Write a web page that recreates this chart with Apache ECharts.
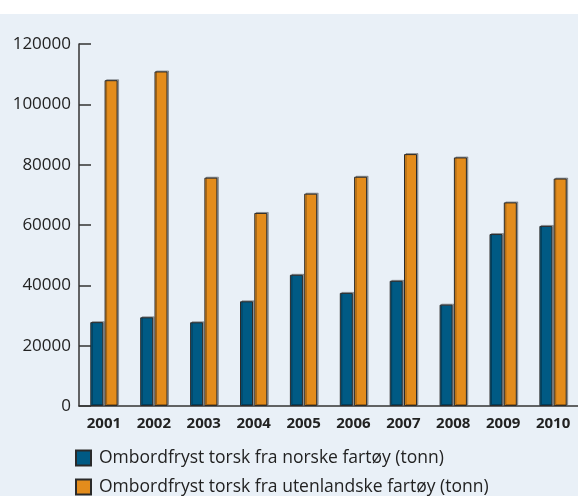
<!DOCTYPE html>
<html>
<head>
<meta charset="utf-8">
<script src="https://cdn.jsdelivr.net/npm/echarts@6/dist/echarts.min.js"></script>
<style>
  html, body { margin: 0; padding: 0; background: #fff; }
  #chart { width: 578px; height: 496px; background: linear-gradient(#fff 0, #fff 14px, #e9f0f7 14px); }
</style>
</head>
<body>
<div id="chart"></div>
<script>
// år og tonn
var years = ['2001', '2002', '2003', '2004', '2005', '2006', '2007', '2008', '2009', '2010'];
var norske = [27800, 29400, 27750, 34700, 43500, 37500, 41500, 33600, 57000, 59700];
var utenlandske = [108000, 110900, 75700, 64000, 70400, 76000, 83500, 82400, 67500, 75400];
var yTicks = [0, 20000, 40000, 60000, 80000, 100000, 120000];
var seriesNames = ['Ombordfryst torsk fra norske fartøy (tonn)', 'Ombordfryst torsk fra utenlandske fartøy (tonn)'];

var fontFam = '"Open Sans", "Noto Sans", sans-serif';

var myChart = echarts.init(document.getElementById('chart'), null, { renderer: 'canvas' });

var barStyle = function (color) {
    return {
        color: color,
        borderColor: '#2a2a2a',
        borderWidth: 1,
        shadowColor: 'rgba(0,0,0,0.3)',
        shadowOffsetX: 1.5,
        shadowOffsetY: -1,
        shadowBlur: 0
    };
};

// en legende per linje
var legendFor = function (name, top) {
    return {
        left: 75,
        top: top,
        padding: 0,
        itemWidth: 15,
        itemHeight: 15,
        icon: 'rect',
        textStyle: { fontFamily: fontFam, fontSize: 17.5, lineHeight: 15, color: '#222', padding: [0, 0, 0, 3] },
        data: [name]
    };
};

myChart.setOption({
    backgroundColor: 'transparent',
    animation: false,
    grid: {
        left: 79,
        top: 44,
        width: 502,
        height: 362
    },
    legend: [legendFor(seriesNames[0], 449), legendFor(seriesNames[1], 478)],
    xAxis: {
        type: 'category',
        data: years,
        axisLine: { lineStyle: { color: '#333', width: 1.5 } },
        axisTick: { inside: true, length: 9, lineStyle: { color: '#333', width: 1.5 } },
        axisLabel: { fontFamily: fontFam, fontSize: 15, fontWeight: 'bold', color: '#222', margin: 10 }
    },
    yAxis: {
        type: 'value',
        min: yTicks[0],
        max: yTicks[yTicks.length - 1],
        interval: 20000,
        splitLine: { show: false },
        axisLine: { show: true, lineStyle: { color: '#333', width: 1.5 } },
        axisTick: { show: true, inside: true, length: 12, lineStyle: { color: '#333', width: 1.5 } },
        axisLabel: {
            fontFamily: fontFam, fontSize: 17, color: '#222', margin: 8,
            formatter: function (v) { return String(v); }
        }
    },
    series: [
        {
            name: seriesNames[0],
            type: 'bar',
            data: norske,
            barWidth: 13,
            barGap: '10%',
            itemStyle: barStyle('#005a84')
        },
        {
            name: seriesNames[1],
            type: 'bar',
            data: utenlandske,
            barWidth: 13,
            itemStyle: barStyle('#e38c1c')
        }
    ]
});
</script>
</body>
</html>
